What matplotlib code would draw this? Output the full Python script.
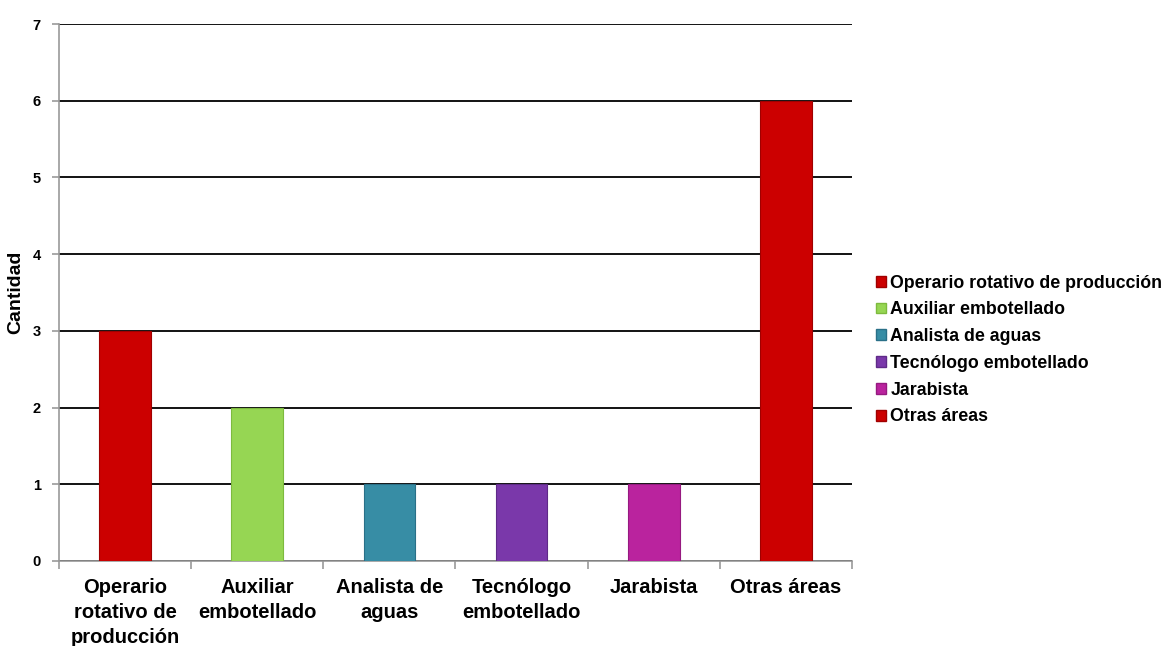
import matplotlib
matplotlib.use("Agg")
import matplotlib.pyplot as plt
from matplotlib.patches import Patch
import numpy as np

categories = ["Operario rotativo de producción", "Auxiliar embotellado", "Analista de aguas",
              "Tecnólogo embotellado", "Jarabista", "Otras áreas"]
tick_labels = ["Operario\nrotativo de\nproducción", "Auxiliar\nembotellado", "Analista de\naguas",
               "Tecnólogo\nembotellado", "Jarabista", "Otras áreas"]
values = [3, 2, 1, 1, 1, 6]
colors = ["#CC0000", "#96D653", "#378DA5", "#7A38AA", "#BA239E", "#CC0000"]
edge_colors = ["#A00000", "#7DBA3E", "#2A7088", "#5F2A88", "#961A80", "#A00000"]

plt.rcParams['font.family'] = ['Liberation Sans', 'DejaVu Sans']
plt.rcParams['font.weight'] = 'bold'

fig = plt.figure(figsize=(11.76, 6.46), dpi=100)
ax = fig.add_axes([59/1176, 1-561/646, (852-59)/1176, (561-24)/646])

x = np.arange(len(categories))
ax.bar(x, values, width=0.39, color=colors, edgecolor=edge_colors, linewidth=0.8, zorder=3)

ax.set_xlim(-0.5, len(categories) - 0.5)
ax.set_ylim(0, 7)
ax.set_yticks(range(0, 8))
ax.yaxis.grid(True, color="black", linewidth=1.3, zorder=0)
ax.set_axisbelow(True)

for s in ["top", "right"]:
    ax.spines[s].set_visible(False)
for s in ["left", "bottom"]:
    ax.spines[s].set_color("#999999")
    ax.spines[s].set_linewidth(1.2)

ax.set_xticks(x)
ax.set_xticklabels(tick_labels, fontsize=14.5, fontweight='bold', linespacing=1.4)
ax.tick_params(axis='x', length=0, pad=12)
ax.set_xticks(np.arange(-0.5, len(categories) + 0.5, 1), minor=True)
ax.tick_params(axis='x', which='minor', length=6, color="#999999", width=1.2)
ax.tick_params(axis='y', length=5, color="#999999", width=1.2, labelsize=10.5, pad=8)
for lbl in ax.get_yticklabels():
    lbl.set_fontweight('bold')

ax.set_ylabel("Cantidad", fontsize=14, fontweight='bold', labelpad=6)

handles = [Patch(facecolor=c, edgecolor=e) for c, e in zip(colors, edge_colors)]
fig.legend(handles, categories, loc='center left', bbox_to_anchor=(876/1176, 1-350/646),
           frameon=False, borderpad=0, borderaxespad=0, handlelength=0.55, handleheight=0.55,
           handletextpad=0.25, labelspacing=0.55, prop={'weight': 'bold', 'size': 12.8})

fig.savefig("out.png", dpi=100)
